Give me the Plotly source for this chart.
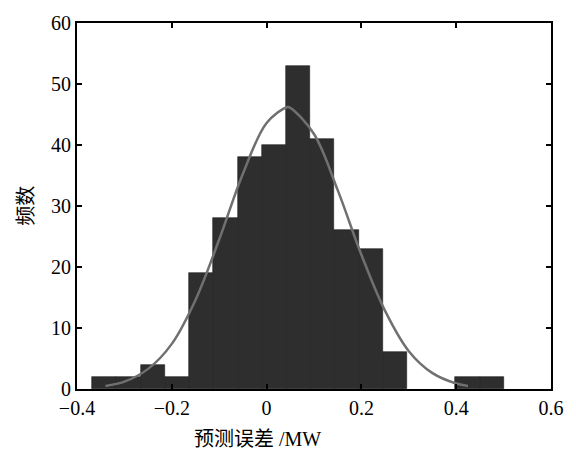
import plotly.graph_objects as go

# Histogram data
bin_start = -0.368
bin_width = 0.0511
counts = [2, 2, 4, 2, 19, 28, 38, 40, 53, 41, 26, 23, 6, 0, 0, 2, 2]

# Fitted curve points
curve_x = [-0.34, -0.30, -0.25, -0.20, -0.15, -0.10, -0.05, 0.00, 0.043, 0.05,
           0.10, 0.15, 0.20, 0.25, 0.30, 0.35, 0.40, 0.425]
curve_y = [0.5, 1.2, 3.3, 7.4, 14.6, 24.5, 35.3, 43.6, 46.2, 46.1,
           41.8, 32.6, 22.0, 12.8, 6.2, 2.6, 0.9, 0.5]

x_ticks = [-0.4, -0.2, 0, 0.2, 0.4, 0.6]
y_ticks = [0, 10, 20, 30, 40, 50, 60]

centers = [bin_start + bin_width * (i + 0.5) for i in range(len(counts))]
bar_y = [c if c > 0 else None for c in counts]

fig = go.Figure()
fig.add_trace(go.Bar(x=centers, y=bar_y, width=bin_width,
                     marker=dict(color="#2e2e2e", line=dict(color="#1c1c1c", width=0.6)),
                     showlegend=False))
fig.add_trace(go.Scatter(x=curve_x, y=curve_y, mode="lines",
                         line=dict(color="#707070", width=2.5, shape="spline"),
                         showlegend=False))

font_fam = "Liberation Serif, 'Noto Sans CJK SC', serif"
axis_common = dict(showline=True, linecolor="black", linewidth=2, mirror="ticks",
                   ticks="inside", ticklen=5, tickwidth=1.5, tickcolor="black",
                   showgrid=False, zeroline=False,
                   tickfont=dict(family=font_fam, size=20, color="black"))
fig.update_xaxes(range=[-0.4, 0.6], tickvals=x_ticks, **axis_common)
fig.update_yaxes(range=[0, 60], tickvals=y_ticks, **axis_common)

fig.update_layout(width=576, height=452,
                  margin=dict(l=77, r=16, t=17, b=63),
                  plot_bgcolor="white", paper_bgcolor="white",
                  bargap=0, font=dict(family=font_fam, color="black"),
                  annotations=[
                      dict(text="预测误差 /MW", x=0.381, y=-0.1, xref="paper", yref="paper",
                           xanchor="center", yanchor="top", showarrow=False,
                           font=dict(family=font_fam, size=20, color="black")),
                      dict(text="频数", x=-0.108, y=0.5, xref="paper", yref="paper",
                           xanchor="center", yanchor="middle", showarrow=False, textangle=-90,
                           font=dict(family=font_fam, size=20, color="black")),
                  ])

fig.write_html("out.html")
